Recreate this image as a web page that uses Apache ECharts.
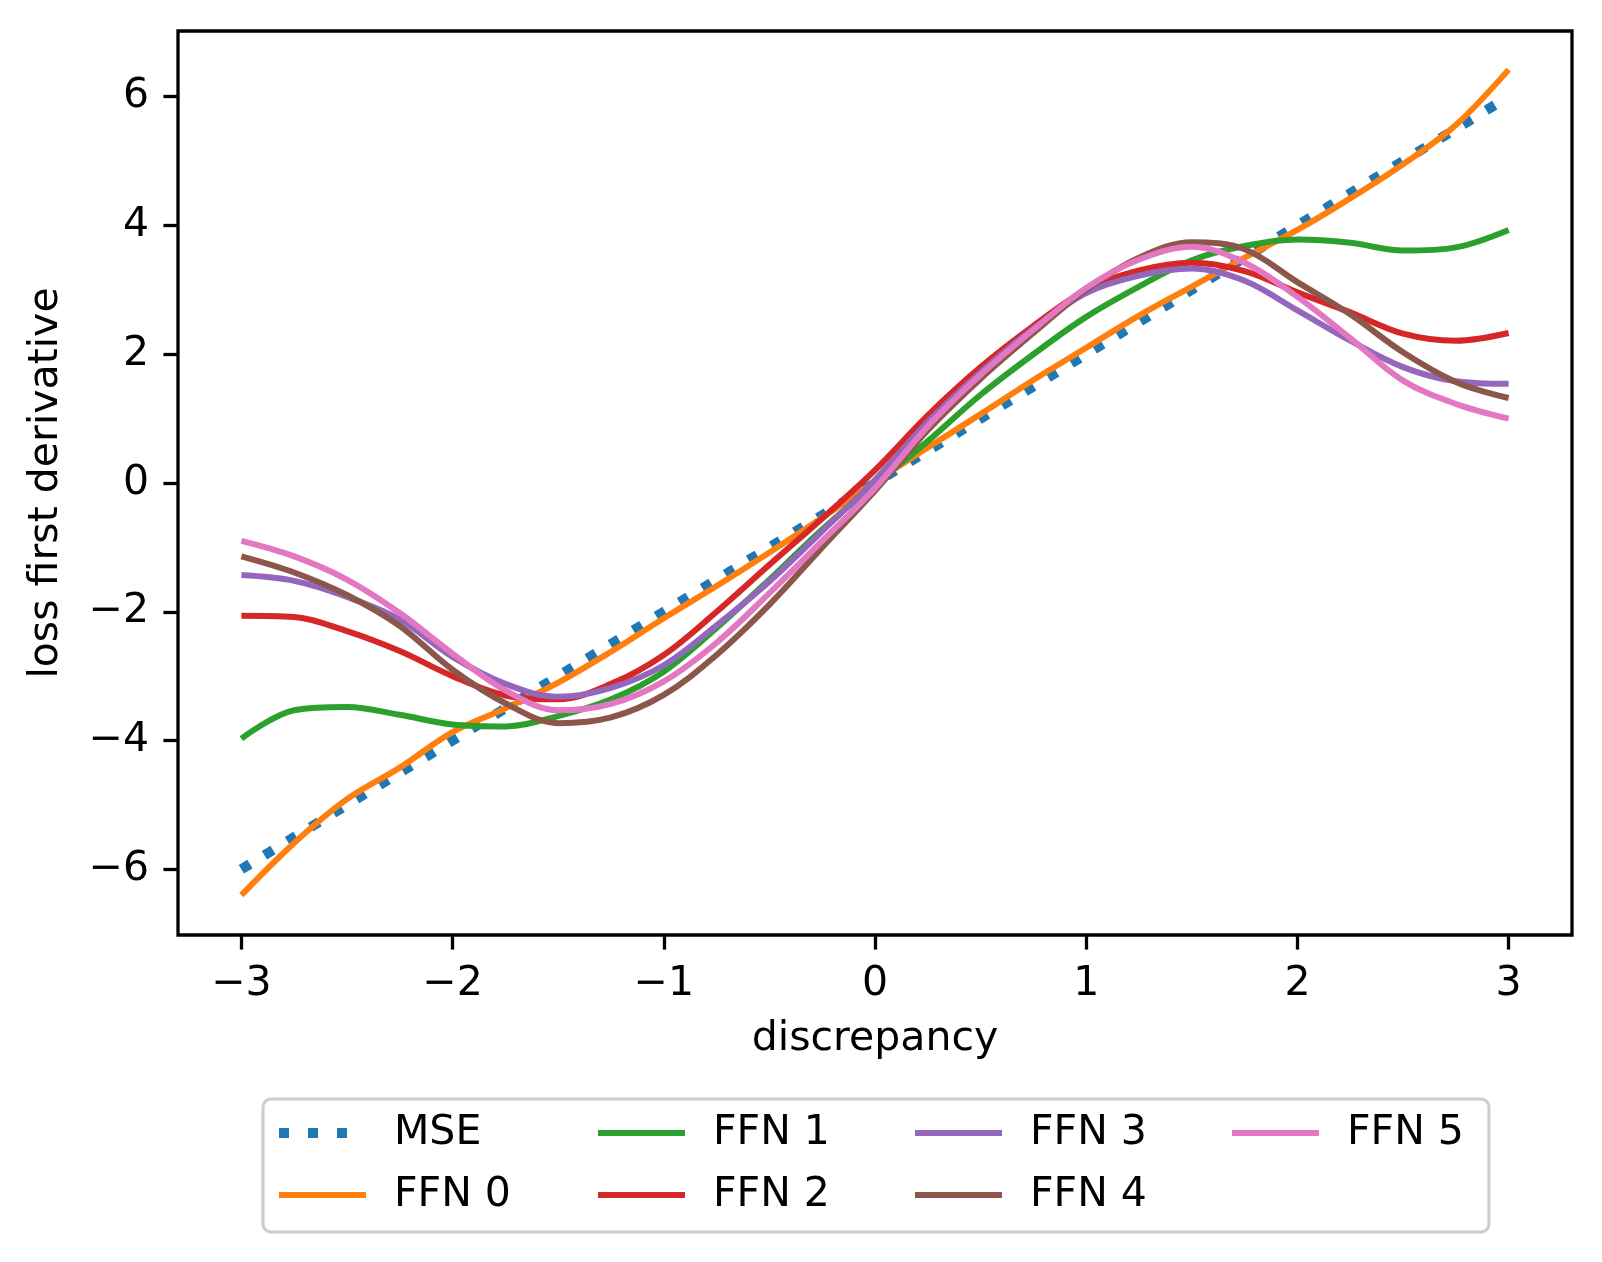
<!DOCTYPE html>
<html>
<head>
<meta charset="utf-8">
<script src="https://cdn.jsdelivr.net/npm/echarts@6/dist/echarts.min.js"></script>
<style>
  html, body { margin: 0; padding: 0; background: #ffffff; }
  #chart { width: 1602px; height: 1262px; }
</style>
</head>
<body>
<div id="chart"></div>
<script>
// ---- data ----
const xs = [-3, -2.75, -2.5, -2.25, -2, -1.75, -1.5, -1.25, -1, -0.75, -0.5, -0.25, 0,
            0.25, 0.5, 0.75, 1, 1.25, 1.5, 1.75, 2, 2.25, 2.5, 2.75, 3];
const mse  = [-6, -5.5, -5, -4.5, -4, -3.5, -3, -2.5, -2, -1.5, -1, -0.5, 0,
              0.5, 1, 1.5, 2, 2.5, 3, 3.5, 4, 4.5, 5, 5.5, 6];
const ffn0 = [-6.4, -5.59, -4.91, -4.42, -3.87, -3.5, -3.1, -2.62, -2.1, -1.6, -1.08, -0.54, 0.02,
              0.55, 1.07, 1.6, 2.1, 2.6, 3.05, 3.5, 3.93, 4.42, 4.95, 5.56, 6.42];
const ffn1 = [-3.97, -3.53, -3.48, -3.6, -3.75, -3.78, -3.62, -3.36, -2.93, -2.25, -1.5, -0.72, -0.02,
              0.65, 1.37, 2.0, 2.58, 3.05, 3.46, 3.68, 3.78, 3.73, 3.61, 3.66, 3.93];
const ffn2 = [-2.06, -2.08, -2.3, -2.61, -3.0, -3.3, -3.36, -3.12, -2.67, -2.0, -1.27, -0.55, 0.2,
              1.05, 1.8, 2.44, 3.0, 3.3, 3.42, 3.29, 2.96, 2.65, 2.32, 2.21, 2.33];
const ffn3 = [-1.43, -1.52, -1.77, -2.12, -2.7, -3.12, -3.32, -3.18, -2.83, -2.21, -1.53, -0.75, 0.05,
              0.95, 1.72, 2.4, 2.95, 3.22, 3.33, 3.14, 2.68, 2.21, 1.8, 1.58, 1.54];
const ffn4 = [-1.14, -1.39, -1.74, -2.22, -2.9, -3.42, -3.73, -3.64, -3.29, -2.67, -1.89, -1.0, -0.12,
              0.82, 1.62, 2.33, 3.0, 3.5, 3.74, 3.63, 3.12, 2.62, 2.03, 1.57, 1.32];
const ffn5 = [-0.9, -1.14, -1.5, -2.02, -2.65, -3.22, -3.53, -3.43, -3.08, -2.48, -1.71, -0.9, -0.08,
              0.88, 1.68, 2.38, 3.03, 3.47, 3.67, 3.42, 2.89, 2.25, 1.59, 1.23, 1.0];
const seriesNames = ['MSE', 'FFN 0', 'FFN 1', 'FFN 2', 'FFN 3', 'FFN 4', 'FFN 5'];
const seriesValues = [mse, ffn0, ffn1, ffn2, ffn3, ffn4, ffn5];
const xTicks = [-3, -2, -1, 0, 1, 2, 3];
const yTicks = [-6, -4, -2, 0, 2, 4, 6];
const xLabel = 'discrepancy';
const yLabel = 'loss first derivative';

// ---- styling ----
const colors = ['#1f77b4', '#ff7f0e', '#2ca02c', '#d62728', '#9467bd', '#8c564b', '#e377c2'];
const FONT = 'DejaVu Sans';
const FS = 41;
const minus = v => String(v).replace('-', '\u2212');
const dottedStyle = (k, gap) => ({ color: colors[k], width: 10, type: [10, gap], cap: 'butt' });
const solidStyle = k => ({ color: colors[k], width: 6, type: 'solid', cap: 'butt' });

const chart = echarts.init(document.getElementById('chart'), null, { renderer: 'canvas' });

const series = seriesNames.map((name, k) => ({
  name: name,
  type: 'line',
  data: xs.map((x, i) => [x, seriesValues[k][i]]),
  symbol: 'none',
  smooth: k === 0 ? false : 0.35,
  color: colors[k],
  lineStyle: k === 0 ? dottedStyle(k, 17) : solidStyle(k),
  emphasis: { disabled: true },
  animation: false,
  z: 2 + k
}));

const legendData = seriesNames.map((name, k) => {
  const item = { name: name, lineStyle: k === 0 ? dottedStyle(k, 19) : solidStyle(k) };
  if (k === seriesNames.length - 1) item.textStyle = { width: 114 };
  return item;
});

const axisCommon = {
  type: 'value',
  splitLine: { show: false },
  axisLine: { show: false, onZero: false },
  axisTick: { show: true, inside: false, length: 14.6, lineStyle: { color: '#000', width: 3.3 } },
  axisLabel: { show: true, color: '#000', fontFamily: FONT, fontSize: FS, margin: 29, formatter: minus },
  nameTextStyle: { color: '#000', fontFamily: FONT, fontSize: FS },
  nameLocation: 'middle'
};

chart.setOption({
  backgroundColor: '#ffffff',
  animation: false,
  grid: {
    left: 178, top: 31, width: 1394, height: 904,
    show: true, borderColor: '#000', borderWidth: 3.3, backgroundColor: 'transparent',
    containLabel: false, outerBoundsMode: 'none'
  },
  xAxis: Object.assign({}, axisCommon, {
    min: -3.3, max: 3.3,
    name: xLabel, nameGap: 84,
    axisTick: Object.assign({}, axisCommon.axisTick, { customValues: xTicks }),
    axisLabel: Object.assign({}, axisCommon.axisLabel, { customValues: xTicks })
  }),
  yAxis: Object.assign({}, axisCommon, {
    min: -7.02, max: 7.02,
    name: yLabel, nameGap: 111, nameRotate: 90,
    axisTick: Object.assign({}, axisCommon.axisTick, { customValues: yTicks }),
    axisLabel: Object.assign({}, axisCommon.axisLabel, { customValues: yTicks })
  }),
  legend: {
    show: true,
    orient: 'vertical',
    left: 263, top: 1099,
    height: 110,
    padding: [13, 25, 16, 11],
    itemGap: 20,
    itemWidth: 87,
    itemHeight: 14,
    selectedMode: false,
    borderColor: '#cccccc',
    borderWidth: 3,
    borderRadius: 8,
    backgroundColor: '#ffffff',
    itemStyle: { opacity: 0, borderWidth: 0 },
    textStyle: { color: '#000', fontFamily: FONT, fontSize: FS, width: 179, padding: [0, 0, 0, 23], lineHeight: 42 },
    data: legendData
  },
  series: series
});
</script>
</body>
</html>
